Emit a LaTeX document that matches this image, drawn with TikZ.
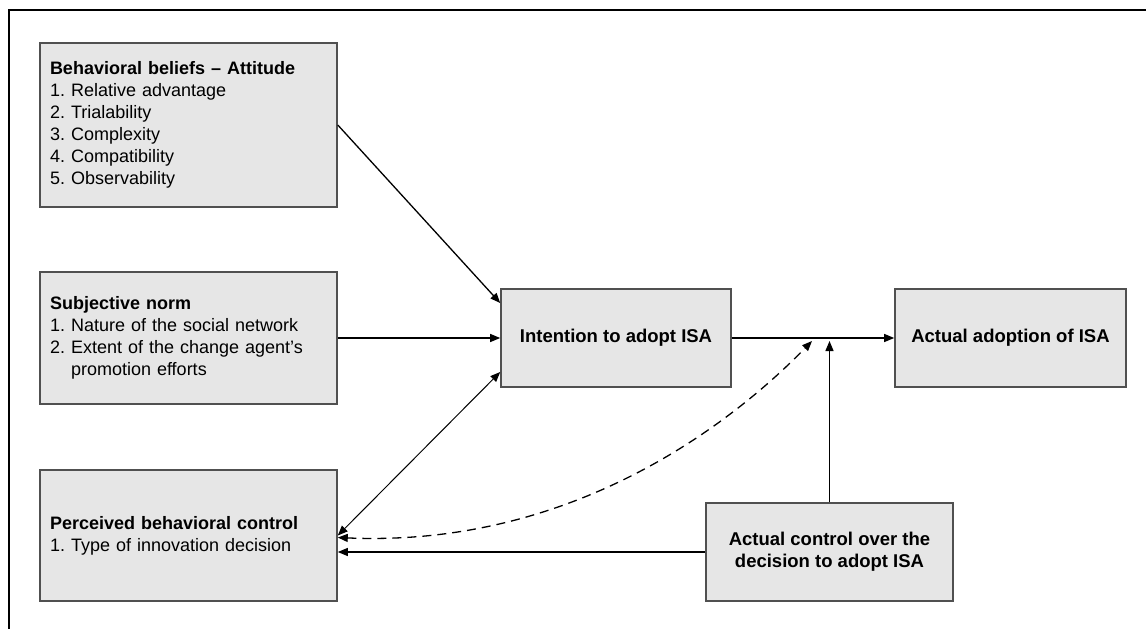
\documentclass[tikz,border=0pt]{standalone}
\usepackage{fontspec}
\setmainfont{Liberation Sans}
\usetikzlibrary{arrows.meta,calc}

\definecolor{boxfill}{HTML}{E6E6E6}
\definecolor{boxline}{HTML}{505050}

\tikzset{
  factor/.style={draw=boxline,fill=boxfill,line width=1.6pt,
    text width=277pt,inner sep=10pt,align=left,
    font=\fontsize{18}{22}\selectfont},
  stage/.style={draw=boxline,fill=boxfill,line width=1.6pt,
    minimum height=98pt,align=center,
    font=\fontsize{18.5}{22}\selectfont\bfseries},
  link/.style={line width=1.3pt,-{Triangle[length=10pt,width=8pt]}},
  twoway/.style={line width=1pt,{Triangle[length=10pt,width=8pt]}-{Triangle[length=10pt,width=8pt]}}
}

\frenchspacing
\begin{document}
\begin{tikzpicture}[x=1pt,y=-1pt]
  \useasboundingbox (0,0) rectangle (1146,629);
  % frame
  \draw[line width=2pt] (1146,10) -- (9,10) -- (9,629);

  % belief factors on the left
  \node[factor,minimum height=164pt] (attitude) at (188.5,125)
    {\textbf{Behavioral beliefs -- Attitude}\\
     1. Relative advantage\\
     2. Trialability\\
     3. Complexity\\
     4. Compatibility\\
     5. Observability};
  \node[factor,minimum height=132pt] (norm) at (188.5,338)
    {\textbf{Subjective norm}\\
     1. Nature of the social network\\
     2. Extent of the change agent's\\
     \phantom{2. }promotion efforts};
  \node[factor,minimum height=131pt] (perceived) at (188.5,535.5)
    {\textbf{Perceived behavioral control}\\
     1. Type of innovation decision};

  % intention, adoption and actual control
  \node[stage,minimum width=230pt] (intention) at (616,338)
    {Intention to adopt ISA};
  \node[stage,minimum width=231pt] (adoption) at (1010.5,338)
    {Actual adoption of ISA};
  \node[stage,minimum width=247pt] (control) at (829.5,552)
    {Actual control over the\\decision to adopt ISA};

  \coordinate (dashend) at (812,341);
  \coordinate (ctrlend) at (control.north |- intention.east);

  % connectors
  \draw[link] (attitude.east) -- ([yshift=35pt]intention.west);
  \draw[link] (norm.east) -- (intention.west);
  \draw[twoway] (perceived.east) -- ([yshift=-34pt]intention.west);
  \draw[link] (intention.east) -- (adoption.west);
  \draw[link] (control.north) -- ([yshift=-3pt]ctrlend);
  \draw[link] (control.west) -- (control.west -| perceived.east);
  \draw[twoway,dashed,dash pattern=on 9pt off 6pt,line width=1.3pt]
    ([yshift=-2pt]perceived.east) .. controls (580,548) and (740,415) .. (dashend);
\end{tikzpicture}
\end{document}
